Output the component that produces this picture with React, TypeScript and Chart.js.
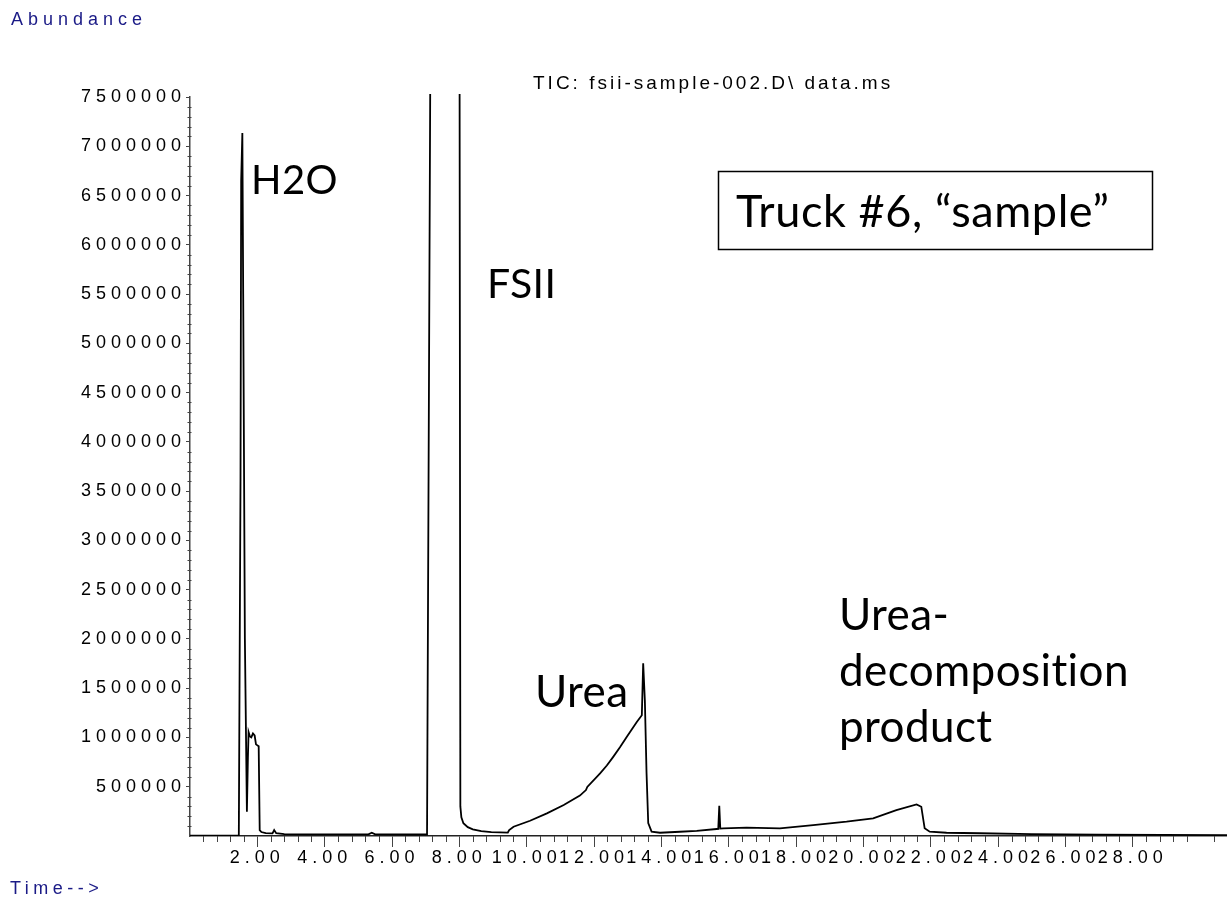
import React, { useEffect, useRef } from "react";
import { Chart, registerables } from "chart.js";

Chart.register(...registerables);

// Retention time (minutes)
const times: number[] = [
  0.0, 1.45, 1.5, 1.52, 1.555, 1.58, 1.63, 1.69, 1.72, 1.74, 1.78, 1.82, 1.87, 1.92, 1.96, 2.04,
  2.07, 2.12, 2.25, 2.45, 2.5, 2.56, 2.8, 3.5, 5.3, 5.4, 5.5, 6.5, 7.02, 7.04, 7.14, 7.2, 7.9,
  8.0, 8.03, 8.06, 8.12, 8.25, 8.4, 8.65, 8.95, 9.44, 9.48, 9.61, 10.1, 10.6, 11.1, 11.58,
  11.76, 11.8, 12.18, 12.38, 12.57, 12.77, 12.97, 13.12, 13.27, 13.42, 13.46, 13.51, 13.56,
  13.61, 13.71, 13.96, 14.55, 15.05, 15.64, 15.69, 15.72, 15.75, 15.84, 16.53, 17.52, 18.51,
  19.5, 20.29, 20.98, 21.58, 21.72, 21.82, 21.97, 22.47, 23.45, 25.0, 27.0, 30.8,
];

// Total ion current abundance
const abundance: number[] = [
  3000, 4000, 3600000, 6650000, 7135000, 5500000, 2000000, 246000, 800000, 1055000, 1010000,
  1000000, 1040000, 1020000, 930000, 910000, 60000, 40000, 30000, 26000, 60000, 28000, 20000,
  17000, 16000, 33000, 17000, 15000, 15000, 15000, 8000000, 10000000, 10000000, 10000000,
  300000, 190000, 130000, 90000, 68000, 50000, 40000, 35000, 60000, 94000, 155000, 230000,
  315000, 410000, 466000, 498000, 635000, 715000, 803000, 900000, 1005000, 1080000, 1157000,
  1225000, 1754000, 1376000, 637000, 131000, 44000, 33000, 43000, 53000, 71000, 72000, 307000,
  75000, 78000, 84000, 78000, 111000, 145000, 179000, 263000, 321000, 297000, 78000, 44000,
  33000, 28000, 20000, 13000, 9000,
];

const xMin = 0;
const xMax = 30.8;
const yMin = 0;
const yMax = 7500000;
const xMajorStep = 2;
const xMinorStep = 0.4;
const yMajorStep = 500000;
const yMinorStep = 100000;

const titleText = "TIC: fsii-sample-002.D\\ data.ms";
const yAxisLabel = "Abundance";
const xAxisLabel = "Time-->";
const peakLabels: { text: string[]; x: number; y: number; size: number }[] = [
  { text: ["H2O"], x: 251, y: 194, size: 40 },
  { text: ["FSII"], x: 487, y: 298, size: 41 },
  { text: ["Urea"], x: 535, y: 707, size: 44 },
  { text: ["Urea-", "decomposition", "product"], x: 839, y: 630, size: 44 },
];
const boxText = "Truck #6, \u201csample\u201d";

const AXIS_FONT = "'Liberation Sans', Arial, sans-serif";
const NOTE_FONT = "Lato, 'Open Sans', sans-serif";

const overlay = {
  id: "overlay",
  beforeDraw(chart: any) {
    chart.ctx.letterSpacing = "5px";
  },
  beforeDatasetsDraw(chart: any) {
    chart.ctx.letterSpacing = "0px";
  },
  afterDraw(chart: any) {
    const ctx: CanvasRenderingContext2D = chart.ctx;
    const xs = chart.scales.x;
    const ys = chart.scales.y;
    const area = chart.chartArea;
    ctx.save();
    // minor ticks
    ctx.strokeStyle = "#444";
    ctx.lineWidth = 1;
    ctx.beginPath();
    const nx = Math.floor(xMax / xMinorStep + 1e-6);
    for (let k = 1; k <= nx; k++) {
      if (k % Math.round(xMajorStep / xMinorStep) === 0) continue;
      const px = Math.round(xs.getPixelForValue(k * xMinorStep)) + 0.5;
      ctx.moveTo(px, area.bottom);
      ctx.lineTo(px, area.bottom + 6);
    }
    const ny = Math.floor(yMax / yMinorStep + 1e-6);
    for (let k = 1; k < ny; k++) {
      if (k % Math.round(yMajorStep / yMinorStep) === 0) continue;
      const py = Math.round(ys.getPixelForValue(k * yMinorStep)) + 0.5;
      ctx.moveTo(area.left - 2.5, py);
      ctx.lineTo(area.left + 1.5, py);
    }
    ctx.stroke();

    // axis captions
    ctx.letterSpacing = "5px";
    ctx.fillStyle = "#1a1a86";
    ctx.font = `18px ${AXIS_FONT}`;
    ctx.textAlign = "left";
    ctx.textBaseline = "alphabetic";
    ctx.fillText(yAxisLabel, 11, 25);
    ctx.letterSpacing = "4.5px";
    ctx.fillText(xAxisLabel, 10, 894);

    // title
    ctx.letterSpacing = "3px";
    ctx.fillStyle = "#000";
    ctx.font = `19px ${AXIS_FONT}`;
    ctx.textAlign = "left";
    ctx.fillText(titleText, 533, 89);

    // annotations
    ctx.letterSpacing = "0.4px";
    ctx.fillStyle = "#000";
    ctx.textAlign = "left";
    peakLabels.forEach((p) => {
      ctx.font = `${p.size}px ${NOTE_FONT}`;
      p.text.forEach((line, i) => ctx.fillText(line, p.x, p.y + i * 56));
    });

    // box
    ctx.strokeStyle = "#000";
    ctx.lineWidth = 1.5;
    ctx.strokeRect(718.5, 171.5, 434, 78);
    ctx.font = `45px ${NOTE_FONT}`;
    ctx.letterSpacing = "0.6px";
    ctx.fillText(boxText, 736, 227);
    ctx.restore();
  },
};

export default function App() {
  const ref = useRef<HTMLCanvasElement | null>(null);
  useEffect(() => {
    document.body.style.margin = "0";
    const canvas = ref.current;
    if (!canvas) return;
    const points = times.map((t, i) => ({ x: t, y: abundance[i] }));
    const chart = new Chart(canvas, {
      type: "line",
      data: {
        datasets: [
          {
            data: points,
            borderColor: "#000",
            borderWidth: 1.8,
            pointRadius: 0,
            tension: 0,
            fill: false,
            clip: { left: 0, right: 0, top: 3, bottom: 0 } as any,
          },
        ],
      },
      options: {
        responsive: false,
        animation: false,
        devicePixelRatio: 1,
        events: [],
        layout: { padding: { top: 97, right: 0, left: 0, bottom: 0 } },
        plugins: {
          legend: { display: false },
          tooltip: { enabled: false },
          title: { display: false },
        },
        scales: {
          x: {
            type: "linear",
            min: xMin,
            max: xMax,
            afterFit: (s: any) => {
              s.height = 62;
            },
            border: { display: true, color: "#222", width: 1.5 },
            grid: {
              drawOnChartArea: false,
              drawTicks: true,
              tickLength: 11,
              tickColor: (c: any) => (c.tick && c.tick.value === 0 ? "rgba(0,0,0,0)" : "#444"),
              tickWidth: 1,
            },
            ticks: {
              stepSize: xMajorStep,
              autoSkip: false,
              maxRotation: 0,
              padding: 0,
              color: "#000",
              font: { family: AXIS_FONT, size: 18 },
              callback: (v: any) => {
                const n = Number(v);
                return n >= 2 && n <= 28 ? n.toFixed(2) : "";
              },
            },
          },
          y: {
            type: "linear",
            min: yMin,
            max: yMax,
            afterFit: (s: any) => {
              s.width = 190;
            },
            border: { display: true, color: "#444", width: 1.5 },
            grid: {
              drawOnChartArea: false,
              drawTicks: true,
              tickLength: 4,
              tickColor: (c: any) => (c.tick && c.tick.value === 0 ? "rgba(0,0,0,0)" : "#444"),
              tickWidth: 1,
            },
            ticks: {
              stepSize: yMajorStep,
              autoSkip: false,
              padding: 0,
              color: "#000",
              font: { family: AXIS_FONT, size: 18 },
              callback: (v: any) => (Number(v) === 0 ? "" : String(v)),
            },
          },
        },
      },
      plugins: [overlay],
    });
    return () => chart.destroy();
  }, []);
  return <canvas ref={ref} width={1227} height={898} style={{ display: "block" }} />;
}
